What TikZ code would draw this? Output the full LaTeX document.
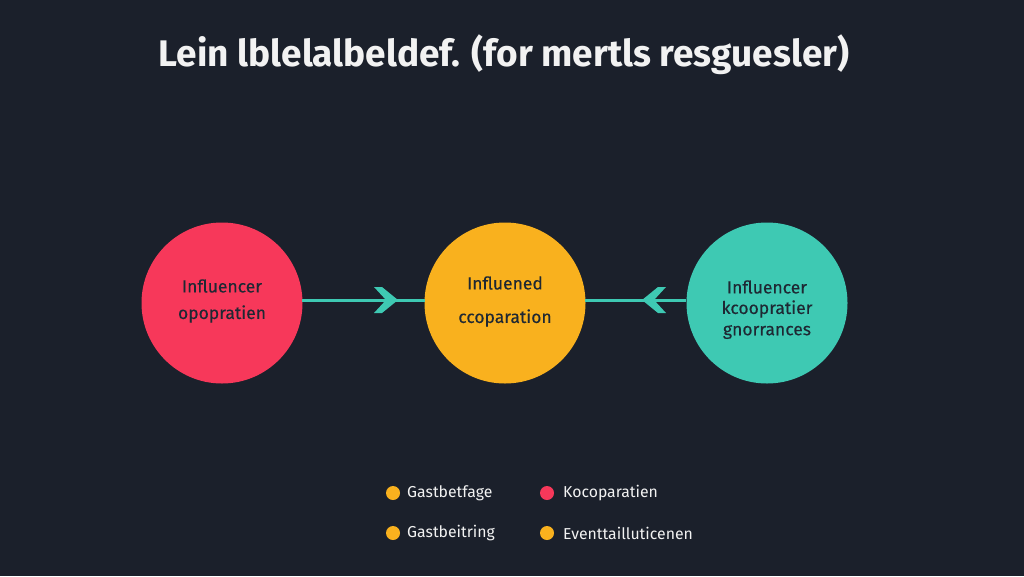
\documentclass[tikz,border=0pt]{standalone}
\usepackage{fontspec}
\setmainfont{Fira Sans}
\definecolor{bg}{HTML}{1B202B}
\definecolor{cred}{HTML}{F7385A}
\definecolor{cyel}{HTML}{F9B11E}
\definecolor{cteal}{HTML}{3EC9B3}
\definecolor{ink}{HTML}{1E2833}
\definecolor{wtxt}{HTML}{F2F2F2}
\tikzset{
  circnode/.style={circle, minimum size=161pt, inner sep=0pt},
  intext/.style={text=ink, font=\fontsize{17.5}{20}\selectfont\addfontfeature{FakeBold=0.3}, align=center},
  legdot/.style={circle, minimum size=14pt, inner sep=0pt},
  legtext/.style={text=wtxt, font=\fontsize{15.8}{18}\selectfont, anchor=west, inner sep=0pt},
  link/.style={draw=cteal, line width=3pt},
  chevron/.pic={\fill[cteal] (-12,-13) -- (-4,-13) -- (12,0) -- (-4,13) -- (-12,13) -- (0,0) -- cycle;}
}
\begin{document}
\begin{tikzpicture}[x=1pt,y=-1pt]
\fill[bg] (0,0) rectangle (1024,576);
\useasboundingbox (0,0) rectangle (1024,576);
\node[text=wtxt, font=\fontsize{37}{40}\selectfont\bfseries] (title) at (504,55) {Lein lblelalbeldef. (for mertls resguesler)};
\node[circnode, fill=cred] (a) at (222,303) {};
\node[circnode, fill=cyel] (b) at (505,303) {};
\node[circnode, fill=cteal] (c) at (767,303) {};
\node[intext] (at1) at (222,286) {Influencer};
\node[intext] (at2) at (222,314) {opopratien};
\node[intext] (bt1) at (505,283) {Influened};
\node[intext] (bt2) at (505,318) {ccoparation};
\node[intext] (ct1) at (767,287) {Influencer};
\node[intext] (ct2) at (767,309) {kcoopratier};
\node[intext] (ct3) at (767,332) {gnorrances};
\coordinate (ae) at (302,300);
\coordinate (bw) at (425,300);
\coordinate (be) at (585,300);
\coordinate (cw) at (686,300);
\draw[link] (ae) -- (bw);
\draw[link] (be) -- (cw);
\pic at (386,300) {chevron};
\pic[xscale=-1] at (654,300) {chevron};
\node[legdot, fill=cyel] (d1) at (393,493) {};
\node[legtext] (l1) at (407,493) {Gastbetfage};
\node[legdot, fill=cred] (d2) at (547,493) {};
\node[legtext] (l2) at (563,493) {Kocoparatien};
\node[legdot, fill=cyel] (d3) at (393,533) {};
\node[legtext] (l3) at (407,533) {Gastbeitring};
\node[legdot, fill=cyel] (d4) at (547,533) {};
\node[legtext] (l4) at (563,533) {Eventtailluticenen};
\end{tikzpicture}
\end{document}
